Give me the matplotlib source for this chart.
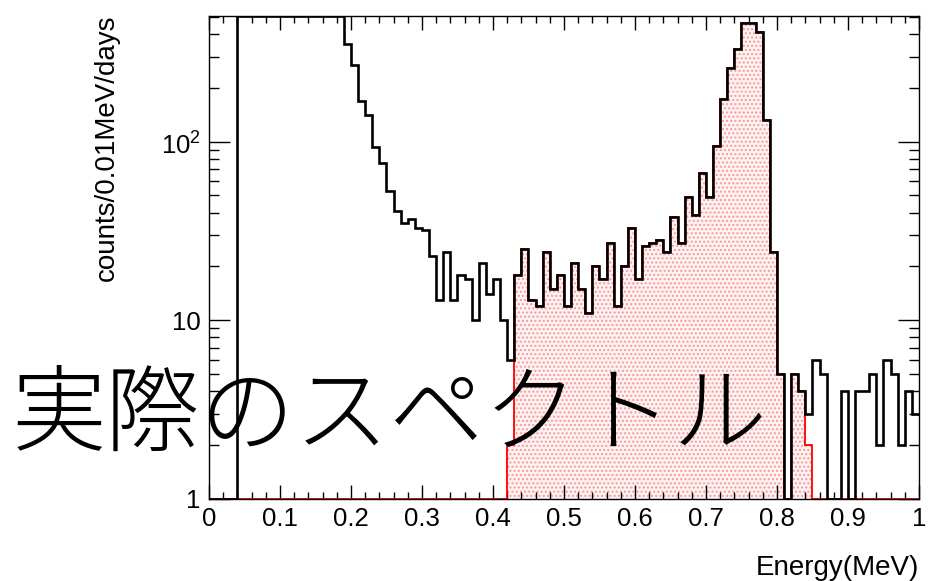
import numpy as np
import matplotlib
matplotlib.use("Agg")
import matplotlib.pyplot as plt
from matplotlib.ticker import MultipleLocator, LogLocator, NullFormatter, FixedLocator, FixedFormatter

plt.rcParams['font.family'] = ['Liberation Sans', 'DejaVu Sans']
plt.rcParams['mathtext.fontset'] = 'custom'
plt.rcParams['mathtext.rm'] = 'Liberation Sans'
plt.rcParams['hatch.linewidth'] = 1.0

# bin edges: 0 - 1 MeV, 0.01 MeV per bin
edges = np.linspace(0, 1, 101)

# measured spectrum (black), bins 0..99; bins 4-18 are above the plot range
black = [0, 0, 0, 0,
         7900, 7400, 6800, 6000, 5200, 4400, 3600, 2900, 2300, 1800, 1400, 1100, 880, 700, 560,
         352, 269, 170, 141, 93, 76, 53, 41, 35, 37, 33, 32, 23, 13, 24, 13, 18, 17, 10, 21, 14, 17, 10, 6,
         18, 25, 13, 12, 24, 15, 18, 12, 21, 15, 11, 20, 17, 27, 12, 20, 33, 17, 26, 27,
         28, 24, 38, 27, 49, 39, 67, 49, 95, 173, 259, 330, 460, 460, 413, 132, 24,
         5, 0, 5, 4, 3, 6, 5, 0, 0, 4, 0, 4, 4, 5, 2, 6, 5, 2, 4, 3]

# selected part (red, hatched)
red = ([0] * 42 +
       [2,
        18, 25, 13, 12, 24, 15, 18, 12, 21, 15, 11, 20, 17, 27, 12, 20, 33, 17, 26, 27,
        28, 24, 38, 27, 49, 39, 67, 49, 95, 173, 259, 330, 460, 460, 413, 132, 24,
        5, 0, 5, 4, 2] +
       [0] * 15)

ymin, ymax = 1, 506

fig = plt.figure(figsize=(9.3, 5.81), dpi=100)
ax = fig.add_axes([0.2247, 0.1417, 0.7634, 0.8308])

b = np.clip(np.array(black, dtype=float), ymin, ymax)
r = np.clip(np.array(red, dtype=float), ymin, ymax)

ax.stairs(r, edges, baseline=ymin, fill=True, facecolor='#fff2f2', edgecolor='#f49a9a',
          hatch='....', linewidth=0, zorder=1)
ax.stairs(r, edges, baseline=None, color='red', linewidth=1.3, zorder=2)
ax.stairs(b, edges, baseline=None, color='black', linewidth=1.9, zorder=3)

ax.set_yscale('log')
ax.set_xlim(0, 1)
ax.set_ylim(ymin, ymax)

ax.xaxis.set_major_locator(MultipleLocator(0.1))
ax.xaxis.set_minor_locator(MultipleLocator(0.02))
ax.xaxis.set_major_formatter(plt.FuncFormatter(lambda v, p: '%g' % round(v, 2)))
ax.yaxis.set_major_locator(FixedLocator([1, 10, 100]))
ax.yaxis.set_major_formatter(FixedFormatter(['1', '10', '$10^{2}$']))
ax.yaxis.set_minor_locator(LogLocator(base=10, subs=np.arange(2, 10)))
ax.yaxis.set_minor_formatter(NullFormatter())

ax.tick_params(which='both', direction='in', top=True, right=True, width=1.0, labelsize=18.5)
ax.tick_params(axis='x', which='major', length=10, pad=6)
ax.tick_params(axis='x', which='minor', length=5)
ax.tick_params(axis='y', which='major', length=15, pad=6)
ax.tick_params(axis='y', which='minor', length=7.5)
for s in ax.spines.values():
    s.set_linewidth(1.0)

fig.text(0.115, 0.975, 'counts/0.01MeV/days', rotation=90, ha='center', va='top', fontsize=20)
fig.text(0.988, 0.023, 'Energy(MeV)', ha='right', va='center', fontsize=20)

fig.text(0.012, 0.282, '実際のスペクトル', fontsize=68, ha='left', va='center', fontweight='light',
         family=['Noto Sans CJK JP', 'DejaVu Sans'], zorder=10)

fig.savefig('out.png', dpi=100)
